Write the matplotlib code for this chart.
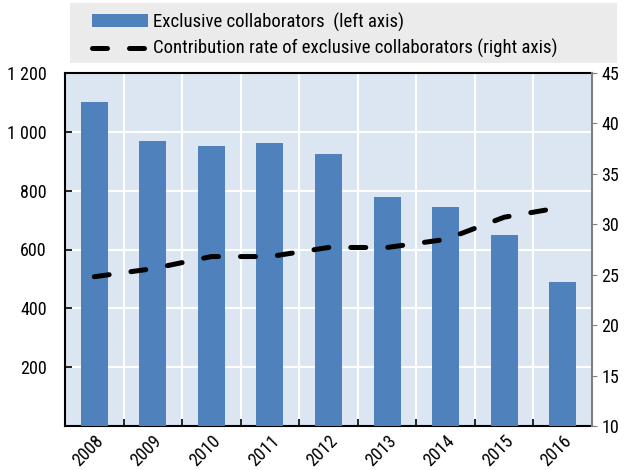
import matplotlib.pyplot as plt
import matplotlib.font_manager as fm
from matplotlib.patches import Rectangle
import numpy as np

years = ['2008', '2009', '2010', '2011', '2012', '2013', '2014', '2015', '2016']
collaborators = [1100, 970, 953, 963, 925, 780, 746, 650, 488]
contrib_rate = [24.8, 25.6, 26.8, 26.8, 27.7, 27.7, 28.5, 30.7, 31.7]

# pick a narrow font if one exists
names = {f.name for f in fm.fontManager.ttflist}
cond = {f.name for f in fm.fontManager.ttflist if f.stretch in ('condensed', 'semi-condensed', 'extra-condensed')}
size = 13
if 'Liberation Sans Narrow' in names:
    plt.rcParams['font.family'] = ['Liberation Sans Narrow', 'DejaVu Sans']
elif 'Roboto Condensed' in names:
    plt.rcParams['font.family'] = ['Roboto Condensed', 'DejaVu Sans']
elif 'DejaVu Sans' in cond:
    plt.rcParams['font.family'] = ['DejaVu Sans']
    plt.rcParams['font.stretch'] = 'condensed'
    size = 12
else:
    plt.rcParams['font.family'] = ['Liberation Sans', 'DejaVu Sans']
    size = 12
plt.rcParams['font.size'] = size

fig = plt.figure(figsize=(6.28, 4.70), dpi=100)
ax = fig.add_axes([65 / 628, 1 - 426 / 470, (592 - 65) / 628, (426 - 73) / 470])
ax.set_facecolor('#dce6f2')

x = np.arange(len(years))
ax.bar(x, collaborators, width=0.46, color='#4f81bd', zorder=3,
       label='Exclusive collaborators  (left axis)')
ax.set_xlim(-0.5, len(years) - 0.5)
ax.set_ylim(0, 1200)
ax.set_yticks(range(200, 1201, 200))
ax.set_yticklabels(['200', '400', '600', '800', '1 000', '1 200'])
ax.set_xticks(x)
ax.set_xticklabels(years, rotation=45, ha='right', rotation_mode='anchor')
ax.tick_params(axis='x', length=0, pad=4)
ax.set_xticks(np.arange(0.5, len(years) - 1, 1), minor=True)
ax.tick_params(axis='x', which='minor', direction='in', length=5, width=1.2)
ax.tick_params(axis='y', direction='in', length=5, width=1.2, pad=13)
ax.grid(axis='y', color='white', linewidth=1.5, zorder=1)
ax.grid(axis='x', which='minor', color='white', linewidth=1.5, zorder=1)
for s in ['left', 'bottom', 'top']:
    ax.spines[s].set_color('black')
    ax.spines[s].set_linewidth(1.5)
ax.spines['right'].set_visible(False)

ax2 = ax.twinx()
ax2.plot(x, contrib_rate, color='black', linewidth=3.6, dashes=(3.0, 4.4),
         solid_capstyle='round', dash_capstyle='round', zorder=4,
         label='Contribution rate of exclusive collaborators (right axis)')
ax2.set_ylim(10, 45)
ax2.set_yticks(range(10, 46, 5))
ax2.tick_params(axis='y', direction='out', length=3.6, color='#808080', pad=3)
for s in ['left', 'bottom', 'top']:
    ax2.spines[s].set_visible(False)
ax2.spines['right'].set_color('#808080')
ax2.spines['right'].set_linewidth(1.5)

# gray legend box
fig.patches.append(Rectangle((70 / 628, 1 - 63 / 470), (617 - 70) / 628, 60 / 470,
                             transform=fig.transFigure, facecolor='#ebebeb',
                             edgecolor='none', zorder=0))
h1, l1 = ax.get_legend_handles_labels()
h2, l2 = ax2.get_legend_handles_labels()
leg = fig.legend(h1 + h2, l1 + l2, loc='center left',
                 bbox_to_anchor=(92 / 628, 1 - 35.5 / 470),
                 frameon=False, borderpad=0, borderaxespad=0, fontsize=size + 0.5,
                 handlelength=3.0, handletextpad=0.27, labelspacing=0.4)

fig.savefig('out.png', dpi=100)
